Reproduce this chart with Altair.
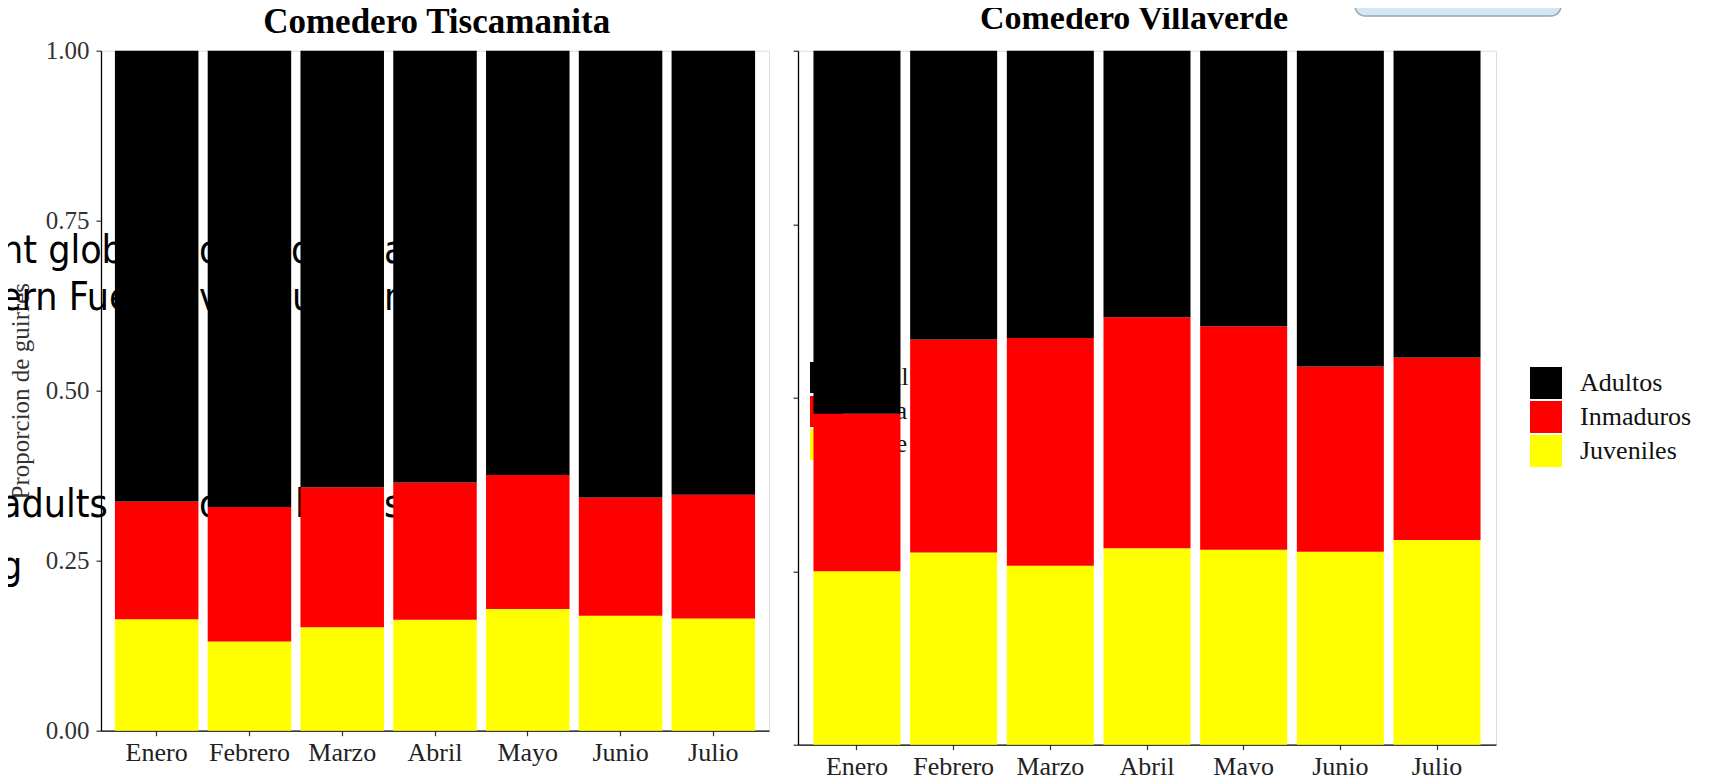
import altair as alt
import pandas as pd

SERIF = "Liberation Serif"
SANS = "Liberation Sans Narrow, DejaVu Sans Condensed, Lato"

months = ["Enero", "Febrero", "Marzo", "Abril", "Mayo", "Junio", "Julio"]
classes = ["Adultos", "Inmaduros", "Juveniles"]
class_colors = ["#000000", "#FF0000", "#FFFF00"]
stack_rank = {"Juveniles": 0, "Inmaduros": 1, "Adultos": 2}

# Comedero Tiscamanita (proportions)
tis_juveniles = [0.164, 0.131, 0.152, 0.163, 0.179, 0.169, 0.165]
tis_inmaduros = [0.173, 0.198, 0.206, 0.202, 0.197, 0.174, 0.182]
tis_adultos = [0.663, 0.671, 0.642, 0.635, 0.624, 0.657, 0.653]

# Comedero Villaverde (proportions)
vil_juveniles = [0.250, 0.277, 0.258, 0.283, 0.281, 0.278, 0.295]
vil_inmaduros = [0.227, 0.307, 0.328, 0.333, 0.322, 0.267, 0.263]
vil_adultos = [0.523, 0.416, 0.414, 0.384, 0.397, 0.455, 0.442]

y_ticks = [0, 0.25, 0.5, 0.75, 1.0]

panel_titles = ["Comedero Tiscamanita", "Comedero Villaverde"]

# slide text fragments showing through behind the left chart (page px)
frag_text = ["nt glob", "o", "o", "a", "ern Fue", "v", "u", "n", "adults", "o", "l", "s", "g"]
frag_page_x = [1, 199, 291, 384, 0, 199, 292, 384, 0, 199, 295, 384, 0]
frag_page_y = [263, 263, 263, 263, 310, 310, 310, 310, 517, 517, 517, 517, 579]

# fragment of another legend behind the right chart (page px)
rem_labels = ["ul", "a", "e"]
rem_colors = ["#000000", "#FF0000", "#FFFF00"]
rem_top = [362, 396, 429]

# page position of the plot origins
L_X0, L_Y0 = 101, 50.7
R_X0, R_Y0 = 795, 50.7
PAGE = 8


def panel_df(juv, inm, adu):
    rows = []
    for i, m in enumerate(months):
        for c, v in (("Juveniles", juv[i]), ("Inmaduros", inm[i]), ("Adultos", adu[i])):
            rows.append({"mes": m, "clase": c, "valor": v, "orden": stack_rank[c]})
    return pd.DataFrame(rows)


legend = alt.Legend(
    title=None, orient="none", legendX=1530 - L_X0, legendY=367 - L_Y0,
    symbolType="square", symbolSize=1024, symbolStrokeWidth=0, symbolOpacity=1,
    labelFont=SERIF, labelFontSize=26, labelColor="#111111", labelOffset=18,
    rowPadding=2, padding=0,
)


def bars(df, pad_outer, labels):
    return alt.Chart(df).mark_bar(strokeWidth=0).encode(
        x=alt.X("mes:N", sort=months, title=None,
                scale=alt.Scale(paddingInner=0.1, paddingOuter=pad_outer),
                axis=alt.Axis(labelAngle=0, labelFont=SERIF, labelFontSize=26,
                              labelColor="#222222", tickSize=5, tickColor="#333333",
                              tickWidth=1.2, domainColor="#000000", domainWidth=1.3,
                              labelPadding=4, grid=False)),
        y=alt.Y("valor:Q", stack="zero",
                scale=alt.Scale(domain=[0, 1], nice=False),
                title="Proporcion de guirres" if labels else None,
                axis=alt.Axis(values=y_ticks, format=".2f", labels=labels,
                              labelFont=SERIF, labelFontSize=25, labelColor="#333333",
                              tickSize=5, tickColor="#333333", tickWidth=1.2,
                              domainColor="#000000", domainWidth=1.3, labelPadding=7,
                              grid=False, titleFont=SERIF, titleFontSize=25,
                              titleFontWeight="normal", titleColor="#333333",
                              titlePadding=12)),
        color=alt.Color("clase:N", scale=alt.Scale(domain=classes, range=class_colors),
                        legend=legend),
        order=alt.Order("orden:Q", sort="ascending"),
    )


one = pd.DataFrame({"k": [0]})


def title_mark(text, cx, base_y, size):
    return alt.Chart(one).mark_text(
        font=SERIF, fontSize=size, fontWeight="bold", align="center",
        baseline="alphabetic", color="#000000"
    ).encode(x=alt.value(cx), y=alt.value(base_y), text=alt.value(text))


frag_layers = []
for t, px, py in zip(frag_text, frag_page_x, frag_page_y):
    frag_layers.append(
        alt.Chart(one).mark_text(
            font=SANS, fontSize=39, align="left", baseline="alphabetic", color="#000000"
        ).encode(x=alt.value(px - L_X0), y=alt.value(py - L_Y0), text=alt.value(t))
    )

rem_layers = []
for lab, col, top in zip(rem_labels, rem_colors, rem_top):
    rem_layers.append(
        alt.Chart(one).mark_rect(color=col).encode(
            x=alt.value(807 - R_X0), x2=alt.value(840 - R_X0),
            y=alt.value(top - R_Y0), y2=alt.value(top + 31 - R_Y0),
        )
    )
    rem_layers.append(
        alt.Chart(one).mark_text(
            font=SERIF, fontSize=25, align="left", baseline="alphabetic", color="#111111"
        ).encode(x=alt.value((886 if lab == "ul" else 893) - R_X0),
                 y=alt.value(top + 23 - R_Y0), text=alt.value(lab))
    )

# light-blue picture corner peeking in at the top right of the slide
blue_corner = alt.Chart(one).mark_rect(
    color="#d3e6f3", stroke="#9aa6b0", strokeWidth=1.5, cornerRadius=10
).encode(
    x=alt.value(1352 - R_X0), x2=alt.value(1558 - R_X0),
    y=alt.value(-30 - R_Y0), y2=alt.value(16 - R_Y0),
)

left = alt.layer(
    *frag_layers,
    bars(panel_df(tis_juveniles, tis_inmaduros, tis_adultos), 0.15, True),
    title_mark(panel_titles[0], 436.7 - L_X0, 33.3 - L_Y0, 35),
).properties(width=668, height=680)

right = alt.layer(
    blue_corner,
    *rem_layers,
    bars(panel_df(vil_juveniles, vil_inmaduros, vil_adultos), 0.16, False),
    title_mark(panel_titles[1], 1131 - R_X0, 29.3 - R_Y0, 34),
).properties(width=698, height=694)

pad_left = L_X0 - PAGE
pad_top = L_Y0 - PAGE
chart = alt.hconcat(left, right, spacing=21).resolve_scale(
    color="shared"
).properties(
    autosize=alt.AutoSizeParams(type="none"),
    padding={"left": pad_left, "top": pad_top,
             "right": 1696 - pad_left, "bottom": 767 - pad_top},
).configure_view(stroke=None).configure(background="white")

chart.save("out.html", embed_options={"renderer": "svg", "actions": False})
